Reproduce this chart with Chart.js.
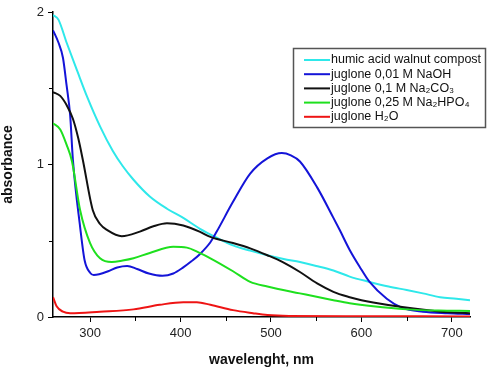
<!DOCTYPE html>
<html>
<head>
<meta charset="utf-8">
<script src="https://cdn.jsdelivr.net/npm/chart.js@4/dist/chart.umd.min.js"></script>
<style>
  html, body { margin: 0; padding: 0; background: #fff; }
  #wrap { width: 500px; height: 373px; }
</style>
</head>
<body>
<div id="wrap"><canvas id="chart"></canvas></div>
<script>
// values (wavelength nm, absorbance)
var humicWl  = [259, 265, 274, 286, 297, 311, 325, 336, 348, 366, 385, 403, 421, 440, 458, 477, 496, 514, 532, 550, 569, 587, 609, 630, 650, 668, 687, 705, 720];
var humicAbs = [1.98, 1.95, 1.80, 1.61, 1.44, 1.25, 1.09, 0.99, 0.90, 0.79, 0.71, 0.65, 0.58, 0.52, 0.47, 0.435, 0.405, 0.38, 0.36, 0.335, 0.305, 0.265, 0.23, 0.20, 0.177, 0.155, 0.13, 0.12, 0.11];

var naohWl  = [259, 265, 270, 274, 278, 281, 289, 294, 300, 304, 310, 320, 330, 341, 352, 365, 380, 392, 403, 412, 421, 433, 440, 458, 477, 496, 512, 522, 532, 551, 569, 576, 587, 598, 609, 628, 645, 668, 695, 720];
var naohAbs = [1.88, 1.80, 1.70, 1.52, 1.32, 1.03, 0.59, 0.37, 0.29, 0.275, 0.28, 0.30, 0.325, 0.335, 0.315, 0.285, 0.27, 0.285, 0.325, 0.365, 0.41, 0.49, 0.56, 0.755, 0.94, 1.04, 1.075, 1.06, 1.02, 0.85, 0.65, 0.57, 0.44, 0.33, 0.23, 0.12, 0.06, 0.035, 0.025, 0.02];

var carbWl  = [259, 267, 274, 281, 287, 292, 303, 311, 319, 335, 355, 370, 385, 403, 421, 433, 458, 477, 496, 513, 532, 551, 569, 587, 600, 613, 645, 687, 720];
var carbAbs = [1.475, 1.45, 1.39, 1.30, 1.17, 1.03, 0.70, 0.61, 0.57, 0.53, 0.56, 0.595, 0.615, 0.60, 0.56, 0.525, 0.485, 0.45, 0.405, 0.36, 0.295, 0.22, 0.165, 0.13, 0.11, 0.095, 0.065, 0.035, 0.025];

var phosWl  = [259, 267, 274, 280, 289, 300, 311, 324, 336, 348, 366, 392, 407, 421, 433, 458, 477, 496, 532, 569, 587, 613, 650, 685, 720];
var phosAbs = [1.27, 1.23, 1.13, 1.02, 0.70, 0.485, 0.385, 0.36, 0.37, 0.385, 0.42, 0.46, 0.455, 0.42, 0.385, 0.30, 0.23, 0.20, 0.155, 0.11, 0.09, 0.07, 0.05, 0.042, 0.04];

var waterWl  = [259, 263, 270, 278, 311, 348, 377, 403, 418, 433, 458, 480, 496, 520, 600, 720];
var waterAbs = [0.13, 0.07, 0.035, 0.025, 0.035, 0.05, 0.08, 0.097, 0.097, 0.08, 0.045, 0.025, 0.013, 0.007, 0.005, 0.004];

var seriesNames  = ['humic acid walnut compost', 'juglone 0,01 M NaOH', 'juglone 0,1 M Na\u2082CO\u2083', 'juglone 0,25 M Na\u2082HPO\u2084', 'juglone H\u2082O'];
var seriesColors = ['#2ee8ea', '#1414d8', '#111111', '#1ee01e', '#ee1414'];

var xMajor = [300, 400, 500, 600, 700];
var xMinor = [350, 450, 550, 650];
var yMajor = [0, 1, 2];
var yMinor = [0.5, 1.5];

function pts(xs, ys) {
    return xs.map(function (x, i) { return { x: x, y: ys[i] }; });
}

var allData = [pts(humicWl, humicAbs), pts(naohWl, naohAbs), pts(carbWl, carbAbs), pts(phosWl, phosAbs), pts(waterWl, waterAbs)];

var datasets = allData.map(function (d, i) {
    return {
        label: seriesNames[i],
        data: d,
        borderColor: seriesColors[i],
        borderWidth: 2,
        pointRadius: 0,
        cubicInterpolationMode: 'monotone',
        fill: false
    };
}).reverse();

// minor ticks and the boxed legend
var extras = {
    id: 'extras',
    afterDraw: function (chart) {
        var ctx = chart.ctx;
        var xs = chart.scales.x, ys = chart.scales.y;
        ctx.save();
        ctx.strokeStyle = '#000';
        ctx.lineWidth = 1;
        xMinor.forEach(function (v) {
            var px = Math.round(xs.getPixelForValue(v)) + 0.5;
            ctx.beginPath();
            ctx.moveTo(px, ys.bottom);
            ctx.lineTo(px, ys.bottom + 4);
            ctx.stroke();
        });
        yMinor.forEach(function (v) {
            var py = Math.round(ys.getPixelForValue(v)) + 0.5;
            ctx.beginPath();
            ctx.moveTo(xs.left - 4, py);
            ctx.lineTo(xs.left, py);
            ctx.stroke();
        });

        // legend
        var bx = 293.5, by = 48.5, bw = 192, bh = 79;
        ctx.fillStyle = '#fff';
        ctx.fillRect(bx, by, bw, bh);
        ctx.strokeStyle = '#555';
        ctx.lineWidth = 1.5;
        ctx.strokeRect(bx, by, bw, bh);
        ctx.font = '12.5px "Liberation Sans", Arial, sans-serif';
        ctx.textBaseline = 'middle';
        seriesNames.forEach(function (name, i) {
            var y = 60 + i * 14.2;
            ctx.strokeStyle = seriesColors[i];
            ctx.lineWidth = 2;
            ctx.beginPath();
            ctx.moveTo(304, y);
            ctx.lineTo(330, y);
            ctx.stroke();
            ctx.fillStyle = '#111';
            ctx.fillText(name, 331, y);
        });
        ctx.restore();
    }
};

var ctx = document.getElementById('chart').getContext('2d');
var chart = new Chart(ctx, {
    type: 'line',
    data: { datasets: datasets },
    options: {
        responsive: true,
        maintainAspectRatio: false,
        animation: false,
        layout: { padding: { top: 12, right: 30, left: 0, bottom: 0 } },
        plugins: { legend: { display: false }, tooltip: { enabled: false } },
        scales: {
            x: {
                type: 'linear',
                min: 259,
                max: 720,
                afterBuildTicks: function (axis) { axis.ticks = xMajor.map(function (v) { return { value: v }; }); },
                afterFit: function (axis) { axis.height = 56; },
                border: { display: true, color: '#000', width: 1.5 },
                grid: { drawOnChartArea: false, tickLength: 5, tickColor: '#000' },
                ticks: { color: '#222', padding: 4, maxRotation: 0, font: { family: '"Liberation Sans", Arial', size: 13 } },
                title: { display: true, text: 'wavelenght, nm', color: '#111', padding: { top: 4 }, font: { family: '"Liberation Sans", Arial', size: 14, weight: 'bold' } }
            },
            y: {
                min: 0,
                max: 2,
                afterBuildTicks: function (axis) { axis.ticks = yMajor.map(function (v) { return { value: v }; }); },
                afterFit: function (axis) { axis.width = 53; },
                border: { display: true, color: '#000', width: 1.5 },
                grid: { drawOnChartArea: false, tickLength: 5, tickColor: '#000' },
                ticks: { color: '#222', padding: 4, font: { family: '"Liberation Sans", Arial', size: 13 } },
                title: { display: true, text: 'absorbance', color: '#111', padding: { top: 0, bottom: 0 }, font: { family: '"Liberation Sans", Arial', size: 14, weight: 'bold' } }
            }
        }
    },
    plugins: [extras]
});
</script>
</body>
</html>
